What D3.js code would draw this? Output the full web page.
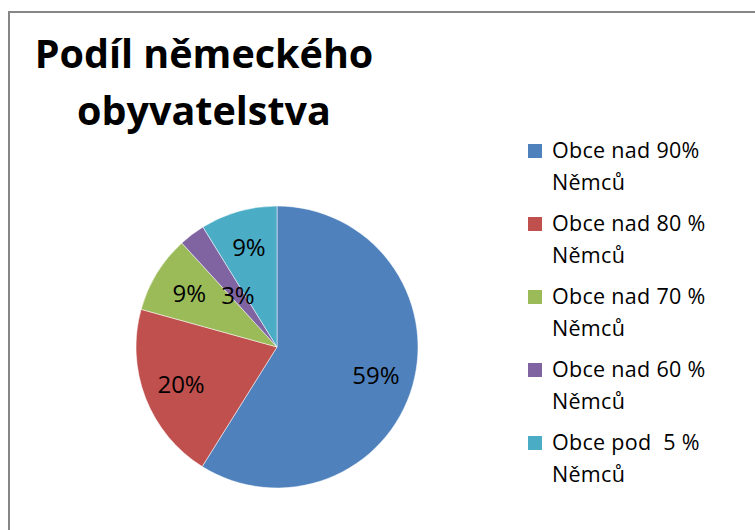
<!DOCTYPE html>
<html>
<head>
<meta charset="utf-8">
<script src="https://cdn.jsdelivr.net/npm/d3@7"></script>
<style>
  body { margin: 0; background: #fff; }
  svg { display: block; font-family: "Open Sans", sans-serif; }
</style>
</head>
<body>
<div id="chart"></div>
<script>
// data
const categories = ["Obce nad 90%", "Obce nad 80 %", "Obce nad 70 %", "Obce nad 60 %", "Obce pod  5 %"];
const values = [58.9, 20.4, 8.9, 3.0, 8.8];
const colors = ["#4F81BD", "#C0504D", "#9BBB59", "#8064A2", "#4BACC6"];
const titleLines = ["Podíl německého", "obyvatelstva"];
const unitLine = "Němců";

const width = 755, height = 530;
const cx = 277, cy = 347, r = 141;

const svg = d3.select("#chart")
  .append("svg")
  .attr("width", width)
  .attr("height", height);

// frame of the chart area
svg.append("rect")
  .attr("x", 9).attr("y", 12)
  .attr("width", width + 20).attr("height", height + 20)
  .attr("fill", "#fff")
  .attr("stroke", "#868686")
  .attr("stroke-width", 2);

// title
svg.append("g")
  .selectAll("text")
  .data(titleLines)
  .join("text")
  .attr("x", 204)
  .attr("y", (d, i) => 68 + i * 57)
  .attr("text-anchor", "middle")
  .attr("font-size", 39.5)
  .attr("font-weight", "bold")
  .attr("fill", "#000")
  .text(d => d);

const total = d3.sum(values);
const rows = categories.map((c, i) => ({ name: c, value: values[i], color: colors[i] }));

const pie = d3.pie().sort(null).value(d => d.value);
const arcs = pie(rows);

const arc = d3.arc().innerRadius(0).outerRadius(r);

const g = svg.append("g").attr("transform", `translate(${cx},${cy})`);

g.selectAll("path")
  .data(arcs)
  .join("path")
  .attr("d", arc)
  .attr("fill", d => d.data.color)
  .attr("stroke", "rgba(255,255,255,0.5)")
  .attr("stroke-width", 1);

// small slices get their label closer to the centre
const labelArc = d => {
  const k = d.data.value / total < 0.05 ? 0.46 : 0.73;
  return d3.arc().innerRadius(0).outerRadius(2 * r * k).centroid(d);
};
const fmt = d3.format(".0%");

g.selectAll("text")
  .data(arcs)
  .join("text")
  .attr("x", d => labelArc(d)[0])
  .attr("y", d => labelArc(d)[1])
  .attr("text-anchor", "middle")
  .attr("dy", "0.35em")
  .attr("font-size", 24)
  .attr("fill", "#000")
  .text(d => fmt(d.data.value / total));

// legend
const legend = svg.append("g")
  .selectAll("g")
  .data(rows)
  .join("g")
  .attr("transform", (d, i) => `translate(528,${144 + i * 73})`);

legend.append("rect")
  .attr("width", 14).attr("height", 14)
  .attr("fill", d => d.color);

const lt = legend.append("text")
  .attr("x", 24)
  .attr("y", 14)
  .attr("font-size", 21.5)
  .attr("letter-spacing", 0.3)
  .attr("fill", "#000")
  .style("white-space", "pre");

lt.append("tspan").text(d => d.name);
lt.append("tspan").attr("x", 24).attr("dy", 32).text(unitLine);
</script>
</body>
</html>
